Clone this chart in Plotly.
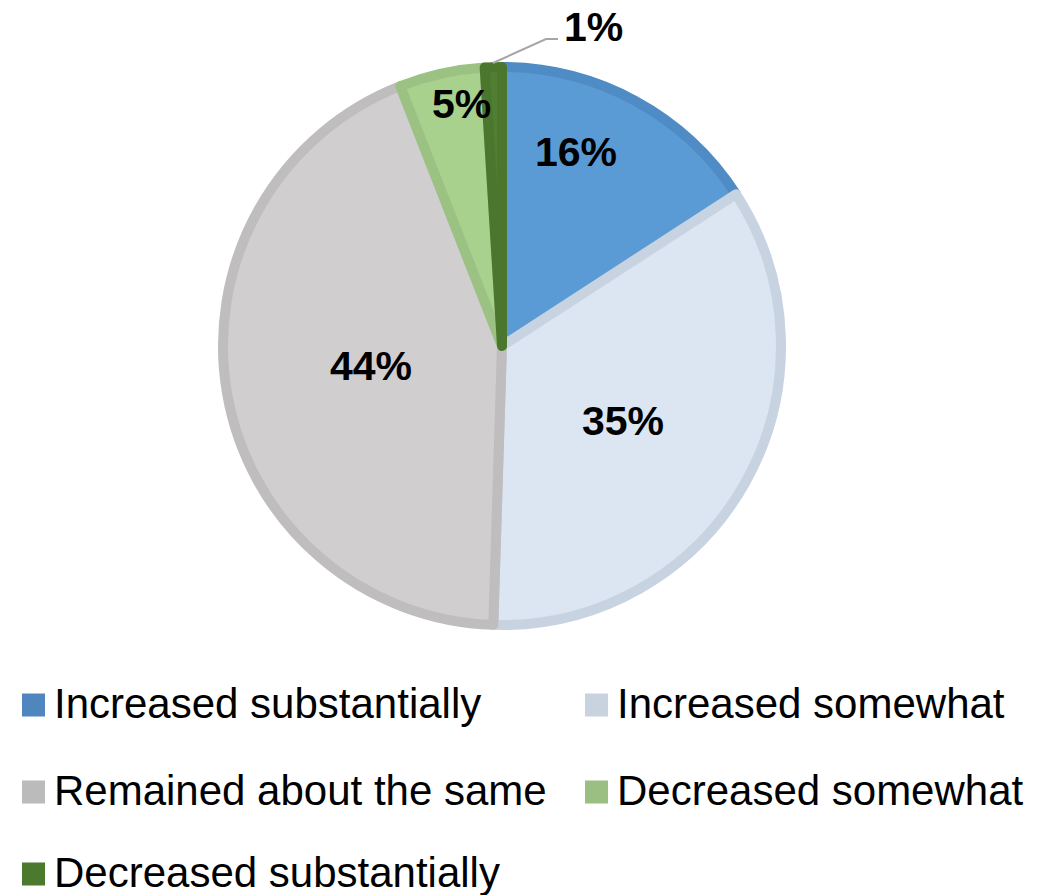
import plotly.graph_objects as go

W, H = 1059, 895

categories = ["Increased substantially", "Increased somewhat", "Remained about the same",
              "Decreased somewhat", "Decreased substantially"]
values = [16, 35, 44, 5, 1]
fill_colors = ["#5B9BD5", "#DCE6F2", "#D0CECE", "#A9D18E", "#507E32"]
border_colors = ["#4F8BC4", "#C8D3E1", "#BFBDBD", "#9BC283", "#4A772D"]
legend_colors = ["#4F86BE", "#C9D3E0", "#BCBBBB", "#9BBF82", "#4B7A2E"]
label_text = [f"{v}%" for v in values]

FONT = "Arial, 'Liberation Sans', sans-serif"


def px(x):
    return x / W


def py(y):
    return 1 - y / H


cx, cy, r = 502, 346, 279

fig = go.Figure()
fig.add_trace(go.Pie(
    labels=categories,
    values=values,
    sort=False,
    direction="clockwise",
    rotation=0,
    marker=dict(colors=fill_colors, line=dict(color=border_colors, width=10)),
    textinfo="none",
    hoverinfo="label+percent",
    showlegend=False,
    domain=dict(x=[px(cx - r), px(cx + r)], y=[py(cy + r), py(cy - r)]),
))

annotations = []
# Slice labels (inside)
label_pos = [(576, 152), (623, 421), (371, 366), (461, 104)]
for t, (x, y) in zip(label_text[:4], label_pos):
    annotations.append(dict(x=px(x), y=py(y), xref="paper", yref="paper", text=f"<b>{t}</b>",
                            showarrow=False, xanchor="center", yanchor="middle",
                            font=dict(family=FONT, size=41, color="#000000")))
# Outside label for smallest slice
annotations.append(dict(x=px(593), y=py(27), xref="paper", yref="paper", text=f"<b>{label_text[4]}</b>",
                        showarrow=False, xanchor="center", yanchor="middle",
                        font=dict(family=FONT, size=41, color="#000000")))

shapes = [dict(type="path", xref="paper", yref="paper",
               path=f"M {px(493)},{py(63)} L {px(546)},{py(39)} L {px(558)},{py(39)}",
               line=dict(color="#A6A6A6", width=2))]

# Legend (two columns)
leg_pos = [(22, 705), (585, 705), (22, 792), (585, 792), (22, 874)]
for name, col, (x, y) in zip(categories, legend_colors, leg_pos):
    shapes.append(dict(type="rect", xref="paper", yref="paper",
                       x0=px(x), x1=px(x + 23), y0=py(y + 11.5), y1=py(y - 11.5),
                       fillcolor=col, line=dict(width=0)))
    annotations.append(dict(x=px(x + 30), y=py(y - 2), xref="paper", yref="paper", text=name,
                            showarrow=False, xanchor="left", yanchor="middle",
                            font=dict(family=FONT, size=42, color="#000000")))

fig.update_layout(
    width=W, height=H,
    margin=dict(l=0, r=0, t=0, b=0),
    paper_bgcolor="white", plot_bgcolor="white",
    annotations=annotations, shapes=shapes,
    showlegend=False,
)

fig.write_html("out.html")
